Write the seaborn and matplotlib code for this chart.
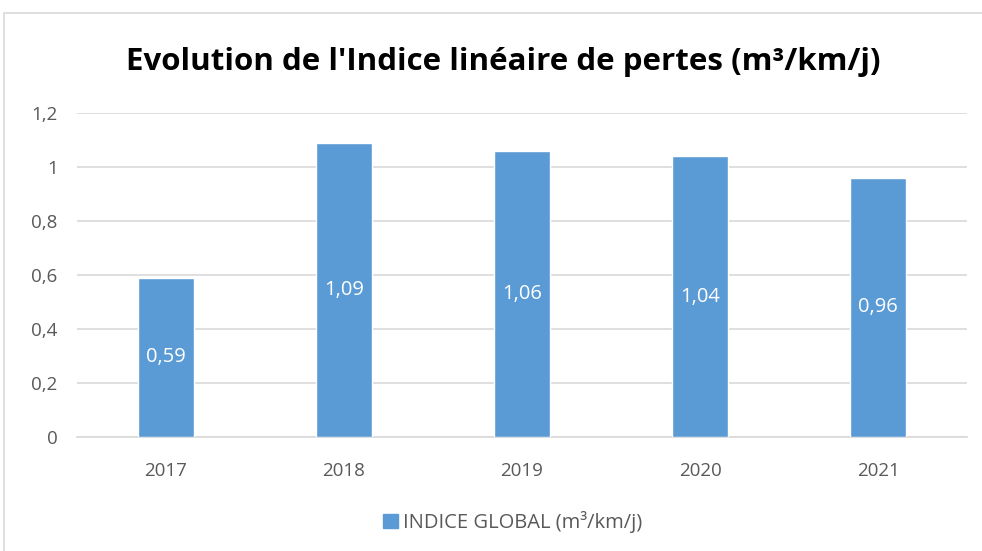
import matplotlib
matplotlib.use("Agg")
import matplotlib.pyplot as plt
import matplotlib.patches as mpatches
import seaborn as sns
import pandas as pd

# données
annees = ["2017", "2018", "2019", "2020", "2021"]
indice = [0.59, 1.09, 1.06, 1.04, 0.96]
serie = "INDICE GLOBAL (m³/km/j)"
titre = "Evolution de l'Indice linéaire de pertes (m³/km/j)"
yticks = [0, 0.2, 0.4, 0.6, 0.8, 1.0, 1.2]

df = pd.DataFrame({"annee": annees, "valeur": indice})

sns.set_theme(style="white")
plt.rcParams['font.family'] = ['Open Sans', 'DejaVu Sans']

bleu = "#5b9bd5"
gris_txt = "#595959"

fig = plt.figure(figsize=(9.82, 5.51), dpi=100)
ax = fig.add_axes([77 / 982, 114 / 551, 890 / 982, 324 / 551])

sns.barplot(data=df, x="annee", y="valeur", color=bleu, width=0.32,
            saturation=1, ax=ax, zorder=3)

ax.set_ylim(0, 1.2)
ax.set_yticks(yticks)
ax.set_yticklabels([("%g" % v).replace(".", ",") for v in yticks])
ax.set_xlim(-0.5, 4.5)
ax.grid(axis="y", color="#d9d9d9", linewidth=1.2, zorder=0)
for s in ["top", "right", "left"]:
    ax.spines[s].set_visible(False)
ax.spines["bottom"].set_color("#d9d9d9")
ax.spines["bottom"].set_linewidth(1.2)
ax.tick_params(axis="both", length=0, labelsize=13.5, colors=gris_txt)
ax.tick_params(axis="x", pad=18)
ax.tick_params(axis="y", pad=14)
ax.set_xlabel("")
ax.set_ylabel("")

# étiquettes au centre des barres
for i, v in enumerate(indice):
    ax.text(i, v / 2, ("%.2f" % v).replace(".", ","), ha="center", va="center",
            color="white", fontsize=14.5)

fig.text(0.512, 0.888, titre, ha="center", va="center", fontsize=22.5,
         fontweight="bold", color="black")

handle = mpatches.Patch(color=bleu, label=serie)
fig.legend(handles=[handle], loc="center", bbox_to_anchor=(0.522, 0.052),
           frameon=False, fontsize=14.5, handlelength=0.7, handleheight=0.7,
           handletextpad=0.25, labelcolor=gris_txt)

# cadre du graphique
fig.patches.append(mpatches.Rectangle((4 / 982, -0.1), 1.2, (551 - 13) / 551 + 0.1,
                                      transform=fig.transFigure, fill=False,
                                      edgecolor="#d9d9d9", linewidth=1.2))

fig.savefig("out.png", dpi=100)
